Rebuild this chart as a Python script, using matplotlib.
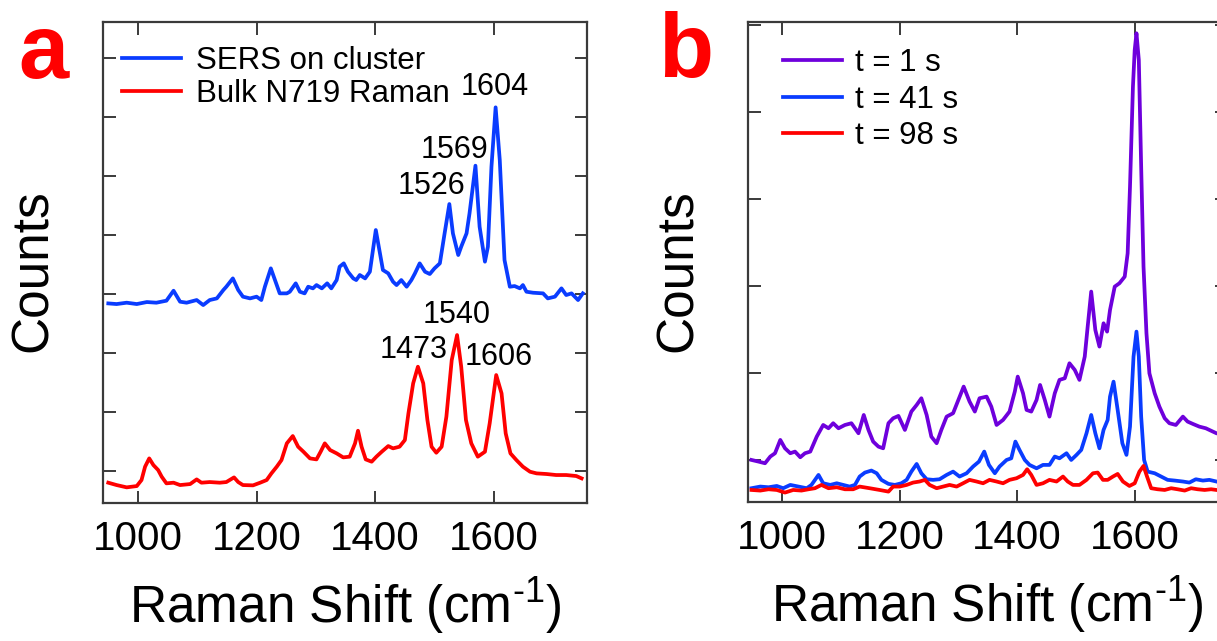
import matplotlib
matplotlib.use("Agg")
import matplotlib.pyplot as plt

plt.rcParams['font.family'] = ['Liberation Sans', 'DejaVu Sans']
plt.rcParams['mathtext.fontset'] = 'custom'
plt.rcParams['mathtext.rm'] = 'Liberation Sans'
plt.rcParams['mathtext.it'] = 'Liberation Sans'

# panel a: SERS on cluster
sers_x = [950, 964, 981, 998, 1015, 1031, 1048, 1060, 1071, 1082, 1099, 1110, 1121, 1133,
          1144, 1149, 1160, 1169, 1177, 1189, 1200, 1208, 1214, 1224, 1231, 1239, 1251, 1256,
          1266, 1273, 1281, 1287, 1295, 1301, 1310, 1319, 1326, 1335, 1340, 1347, 1354, 1363,
          1368, 1374, 1383, 1391, 1401, 1408, 1413, 1422, 1430, 1436, 1444, 1453, 1461, 1467,
          1475, 1484, 1492, 1500, 1509, 1517, 1525, 1531, 1540, 1545, 1554, 1559, 1569, 1576,
          1585, 1590, 1596, 1603, 1610, 1618, 1627, 1635, 1644, 1649, 1655, 1666, 1683, 1691,
          1703, 1714, 1722, 1731, 1742, 1750]
sers_y = [3841, 3830, 3853, 3830, 3864, 3853, 3887, 4056, 3870, 3853, 3898, 3813, 3898, 3926,
          4068, 4124, 4265, 4068, 3955, 3926, 3955, 3898, 4124, 4435, 4237, 4011, 4011, 4039,
          4181, 4039, 4011, 4124, 4096, 4152, 4096, 4181, 4096, 4237, 4463, 4520, 4378, 4265,
          4237, 4322, 4265, 4378, 5085, 4689, 4407, 4350, 4209, 4152, 4237, 4124, 4237, 4350,
          4520, 4378, 4339, 4435, 4520, 5028, 5525, 5028, 4661, 4802, 5028, 5367, 6175, 5141,
          4548, 4802, 6158, 7164, 6271, 4576, 4124, 4135, 4096, 4152, 4039, 4022, 4011, 3926,
          3955, 4096, 3983, 4011, 3898, 4011]

# panel a: bulk N719 Raman
bulk_x = [950, 964, 981, 998, 1006, 1012, 1019, 1026, 1034, 1040, 1048, 1060, 1071, 1088,
          1099, 1107, 1121, 1138, 1149, 1162, 1169, 1177, 1194, 1206, 1217, 1225, 1234, 1242,
          1251, 1261, 1270, 1279, 1290, 1301, 1308, 1315, 1324, 1335, 1346, 1357, 1366, 1371,
          1377, 1384, 1394, 1402, 1411, 1422, 1430, 1441, 1450, 1456, 1464, 1472, 1481, 1488,
          1495, 1503, 1512, 1520, 1529, 1538, 1545, 1553, 1562, 1573, 1585, 1593, 1604, 1613,
          1620, 1628, 1638, 1649, 1661, 1672, 1689, 1705, 1722, 1739, 1748]
bulk_y = [802, 762, 723, 745, 847, 1073, 1214, 1101, 1017, 904, 791, 802, 762, 779,
          858, 802, 813, 802, 813, 892, 813, 762, 757, 802, 847, 960, 1073, 1186,
          1469, 1593, 1412, 1327, 1214, 1197, 1327, 1469, 1355, 1299, 1231, 1243, 1469, 1683,
          1412, 1197, 1158, 1243, 1327, 1423, 1384, 1412, 1525, 1977, 2486, 2768, 2486, 1864,
          1412, 1310, 1412, 1921, 2881, 3305, 2768, 1864, 1469, 1243, 1327, 1808, 2627, 2316,
          1638, 1299, 1186, 1073, 988, 960, 949, 932, 932, 915, 875]

peak_labels_a = ['1604', '1569', '1526', '1540', '1473', '1606']
peak_x_a = [1601, 1534, 1495, 1537, 1464, 1609]
peak_y_a = [7514, 6440, 5830, 3644, 3051, 2938]

# panel b: t = 1 s
t1_x = [948, 960, 971, 980, 988, 997, 1005, 1014, 1022, 1031, 1039, 1048, 1059, 1070,
        1079, 1087, 1096, 1107, 1118, 1130, 1139, 1147, 1155, 1164, 1172, 1181, 1189, 1198,
        1209, 1220, 1229, 1237, 1246, 1254, 1263, 1271, 1280, 1291, 1300, 1309, 1319, 1328,
        1336, 1348, 1356, 1365, 1376, 1387, 1396, 1401, 1410, 1416, 1424, 1433, 1439, 1447,
        1455, 1464, 1472, 1481, 1489, 1498, 1506, 1515, 1520, 1526, 1533, 1540, 1547, 1553,
        1558, 1566, 1574, 1583, 1588, 1592, 1597, 1600, 1603, 1607, 1611, 1615, 1620, 1625,
        1634, 1642, 1651, 1659, 1670, 1682, 1690, 1699, 1710, 1721, 1733, 1739, 1750]
t1_y = [1000, 981, 962, 1039, 1077, 1230, 1134, 1077, 1096, 1031, 1077, 1096, 1268, 1402,
        1364, 1422, 1364, 1402, 1422, 1307, 1517, 1345, 1211, 1153, 1134, 1422, 1479, 1506,
        1345, 1556, 1632, 1709, 1517, 1268, 1192, 1345, 1498, 1537, 1690, 1843, 1671, 1556,
        1709, 1728, 1613, 1402, 1460, 1556, 1786, 1958, 1766, 1575, 1556, 1690, 1862, 1690,
        1498, 1766, 1920, 1939, 2111, 2035, 1920, 2188, 2533, 2935, 2494, 2303, 2571, 2475,
        2724, 2992, 3031, 3107, 3375, 4142, 5291, 5712, 5904, 5597, 4372, 3222, 2456, 1996,
        1766, 1613, 1479, 1422, 1402, 1498, 1441, 1414, 1383, 1364, 1326, 1307, 1290]

# panel b: t = 41 s
t41_x = [948, 963, 977, 991, 1002, 1014, 1028, 1042, 1050, 1062, 1070, 1082, 1093, 1104,
         1115, 1124, 1132, 1141, 1152, 1161, 1169, 1181, 1192, 1203, 1212, 1220, 1229, 1237,
         1246, 1257, 1268, 1280, 1291, 1302, 1314, 1325, 1335, 1344, 1352, 1362, 1370, 1382,
         1390, 1397, 1404, 1413, 1421, 1433, 1444, 1455, 1464, 1472, 1484, 1492, 1501, 1509,
         1518, 1526, 1533, 1540, 1547, 1554, 1558, 1564, 1571, 1579, 1586, 1592, 1598, 1603,
         1607, 1611, 1616, 1622, 1634, 1645, 1656, 1668, 1682, 1693, 1704, 1716, 1727, 1739]
t41_y = [675, 694, 686, 701, 675, 713, 694, 675, 713, 828, 732, 713, 732, 713,
         694, 713, 809, 855, 878, 847, 771, 725, 713, 732, 771, 866, 954, 847,
         778, 771, 778, 828, 866, 809, 847, 924, 981, 1096, 943, 847, 924, 1000,
         1019, 1211, 1115, 1000, 943, 904, 943, 943, 1039, 1019, 1077, 1000, 1058, 1115,
         1307, 1517, 1307, 1134, 1345, 1460, 1728, 1900, 1575, 1192, 1058, 1383, 2188, 2475,
         2188, 1498, 1000, 866, 847, 809, 771, 763, 752, 740, 778, 763, 771, 752]

# panel b: t = 98 s
t98_x = [948, 963, 977, 991, 1005, 1019, 1033, 1045, 1056, 1067, 1079, 1093, 1107, 1121,
         1132, 1149, 1166, 1181, 1189, 1200, 1212, 1223, 1234, 1243, 1251, 1263, 1274, 1285,
         1297, 1308, 1319, 1331, 1342, 1353, 1365, 1376, 1387, 1399, 1410, 1417, 1424, 1433,
         1444, 1455, 1467, 1478, 1486, 1495, 1506, 1518, 1529, 1537, 1546, 1554, 1563, 1571,
         1580, 1591, 1600, 1608, 1615, 1621, 1628, 1639, 1651, 1662, 1673, 1685, 1696, 1707,
         1719, 1730, 1739]
t98_y = [655, 648, 663, 655, 625, 655, 648, 663, 675, 713, 675, 686, 663, 663,
         694, 675, 655, 636, 694, 694, 713, 740, 752, 771, 713, 675, 694, 713,
         694, 732, 771, 752, 732, 771, 752, 732, 771, 790, 828, 893, 828, 713,
         732, 771, 752, 809, 752, 713, 713, 771, 847, 855, 771, 771, 809, 839,
         752, 701, 732, 866, 931, 809, 675, 663, 655, 675, 663, 648, 675, 663,
         655, 663, 655]

xticks = [1000, 1200, 1400, 1600]

fig = plt.figure(figsize=(12.17, 6.41), dpi=100)
ax1 = fig.add_axes([0.0846, 0.2153, 0.3977, 0.7504])
ax2 = fig.add_axes([0.6146, 0.2169, 0.3936, 0.7488])

spine_col = '#3a3a3a'
for ax in (ax1, ax2):
    for s in ax.spines.values():
        s.set_linewidth(1.6)
        s.set_color(spine_col)
    ax.tick_params(direction='in', length=9, width=1.4, color=spine_col,
                   top=True, right=True, labelleft=False, labelsize=29, pad=12)
    ax.set_xticks(xticks)
    ax.set_xlabel(r'Raman Shift (cm$^{\text{-1}}$)', fontsize=37, labelpad=13)

lw = 2.7
ax1.plot(sers_x, sers_y, color='#0a3cff', lw=lw, label='SERS on cluster')
ax1.plot(bulk_x, bulk_y, color='#ff0000', lw=lw, label='Bulk N719 Raman')
ax1.set_xlim(941, 1757)
ax1.set_ylim(458, 8611)
ax1.set_yticks(range(1000, 8001, 1000))
for lab, px, py in zip(peak_labels_a, peak_x_a, peak_y_a):
    ax1.text(px, py, lab, fontsize=22, ha='center', va='center')
ax1.legend(loc='upper left', bbox_to_anchor=(0.039, 0.95), frameon=False, fontsize=22.5,
           handlelength=1.9, handletextpad=0.48, labelspacing=0.1, borderpad=0,
           borderaxespad=0)
ax1.set_ylabel('Counts', fontsize=37, va='center')
ax1.yaxis.set_label_coords(-0.143, 0.484)

ax2.plot(t1_x, t1_y, color='#6e00dc', lw=lw, label='t = 1 s')
ax2.plot(t41_x, t41_y, color='#0a3cff', lw=lw, label='t = 41 s')
ax2.plot(t98_x, t98_y, color='#ff0000', lw=lw, label='t = 98 s')
ax2.set_xlim(942, 1757)
ax2.set_ylim(517, 6034)
ax2.set_yticks(range(1000, 6001, 1000))
ax2.legend(loc='upper left', bbox_to_anchor=(0.073, 0.945), frameon=False, fontsize=22.5,
           handlelength=1.9, handletextpad=0.42, labelspacing=0.2, borderpad=0,
           borderaxespad=0)
ax2.set_ylabel('Counts', fontsize=37, va='center')
ax2.yaxis.set_label_coords(-0.146, 0.481)

fig.text(0.0148, 0.8783, 'a', fontsize=65, fontweight='bold', color='#ff0000',
         ha='left', va='baseline')
fig.text(0.5407, 0.8799, 'b', fontsize=65, fontweight='bold', color='#ff0000',
         ha='left', va='baseline')

fig.savefig('out.png', dpi=100)
